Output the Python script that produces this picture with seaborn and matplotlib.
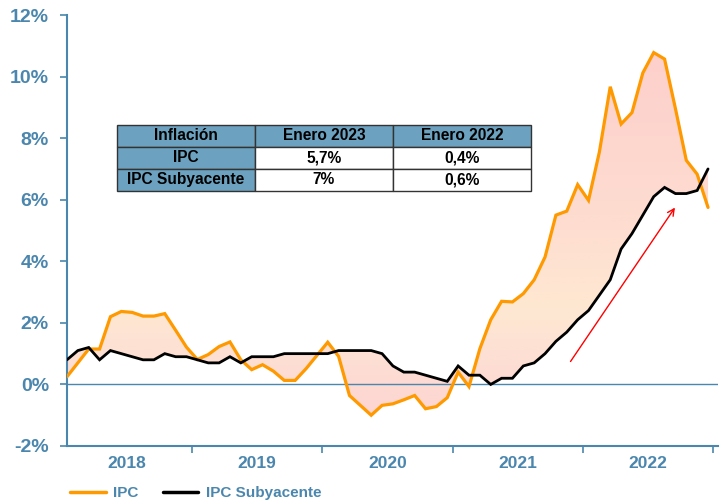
import numpy as np
import pandas as pd
import matplotlib
matplotlib.use("Agg")
import matplotlib.pyplot as plt
import matplotlib.path as mpath
from matplotlib.patches import PathPatch
from matplotlib.colors import LinearSegmentedColormap
from matplotlib.lines import Line2D
import seaborn as sns

# ---- data (monthly, Jan 2018 - Dec 2022) ----
years = ["2018", "2019", "2020", "2021", "2022"]
ipc = [0.25, 0.7, 1.15, 1.15, 2.2, 2.37, 2.34, 2.22, 2.22, 2.3, 1.76, 1.21,
       0.81, 0.97, 1.23, 1.38, 0.8, 0.48, 0.64, 0.43, 0.13, 0.13, 0.51, 0.94,
       1.37, 0.91, -0.36, -0.68, -1.0, -0.68, -0.63, -0.5, -0.36, -0.79, -0.72, -0.43,
       0.4, -0.07, 1.16, 2.1, 2.7, 2.68, 2.95, 3.4, 4.14, 5.5, 5.63, 6.49,
       5.98, 7.55, 9.67, 8.46, 8.83, 10.12, 10.78, 10.57, 8.96, 7.28, 6.83, 5.75]
subyacente = [0.8, 1.1, 1.2, 0.8, 1.1, 1.0, 0.9, 0.8, 0.8, 1.0, 0.9, 0.9,
              0.8, 0.7, 0.7, 0.9, 0.7, 0.9, 0.9, 0.9, 1.0, 1.0, 1.0, 1.0,
              1.0, 1.1, 1.1, 1.1, 1.1, 1.0, 0.6, 0.4, 0.4, 0.3, 0.2, 0.1,
              0.6, 0.3, 0.3, 0.0, 0.2, 0.2, 0.6, 0.7, 1.0, 1.4, 1.7, 2.1,
              2.4, 2.9, 3.4, 4.4, 4.9, 5.5, 6.1, 6.4, 6.2, 6.2, 6.3, 7.0]
yticks = [-2, 0, 2, 4, 6, 8, 10, 12]
table_cols = ["Inflación", "Enero 2023", "Enero 2022"]
table_rows = [["IPC", "5,7%", "0,4%"],
              ["IPC Subyacente", "7%", "0,6%"]]
arrow_start = (46.2, 0.67)
arrow_end = (56.1, 5.82)

month = np.arange(len(ipc))
df = pd.DataFrame({"mes": np.concatenate([month, month]),
                   "valor": ipc + subyacente,
                   "serie": ["IPC"] * len(ipc) + ["IPC Subyacente"] * len(subyacente)})

sns.set_theme(style="white")
plt.rcParams["font.family"] = ["Liberation Sans", "DejaVu Sans"]
plt.rcParams["font.weight"] = "bold"

blue = "#4a86ad"
orange = "#ff9900"

fig = plt.figure(figsize=(7.28, 5.01), dpi=100)
ax = fig.add_axes([0.092, 0.1098, 0.894, 0.8602])

# gradient fill between the two series
poly = ax.fill_between(month, ipc, subyacente, facecolor="none", edgecolor="none")
path = mpath.Path.make_compound_path(*poly.get_paths())
clip = PathPatch(path, transform=ax.transData, facecolor="none", edgecolor="none")
ax.add_patch(clip)
cmap = LinearSegmentedColormap.from_list(
    "grad", [(0.0, "#fdd3d2"), (0.2, "#fde2d4"), (0.3, "#fee8d2"),
             (0.55, "#fedcd0"), (1.0, "#fdcfcc")])
grad = np.linspace(0, 1, 256).reshape(-1, 1)
im = ax.imshow(grad, cmap=cmap, aspect="auto", origin="lower",
               extent=[0, 60, -1.2, 11], zorder=1)
im.set_clip_path(clip)

ax.axhline(0, color=blue, lw=1.0, zorder=2)

sns.lineplot(data=df, x="mes", y="valor", hue="serie",
             palette={"IPC": orange, "IPC Subyacente": "black"},
             ax=ax, legend=False, zorder=3)
for ln, lw in zip(ax.get_lines()[-2:], [2.3, 2.0]):
    ln.set_linewidth(lw)
    ln.set_solid_joinstyle("miter")

ax.annotate("", xy=arrow_end, xytext=arrow_start,
            arrowprops=dict(arrowstyle="->", color="red", lw=1.0,
                            mutation_scale=12), zorder=4)

ax.set_xlim(0, 59.9)
ax.set_ylim(-2, 12)
ax.set_yticks(yticks)
ax.set_yticklabels([f"{v}%" for v in yticks], color=blue, fontsize=14,
                   fontweight="bold")
ax.set_xticks([11.5, 23.5, 35.5, 47.5, 59.5])
ax.set_xticklabels([])
ax.set_xticks([5.5, 17.5, 29.5, 41.5, 53.5], minor=True)
ax.set_xticklabels(years, minor=True, color=blue, fontsize=12.5, fontweight="bold")
ax.tick_params(axis="x", which="minor", length=0, pad=7)
ax.tick_params(axis="x", which="major", length=5, width=1.2, color=blue,
               direction="out", bottom=True)
ax.tick_params(axis="y", length=5, width=1.2, color=blue, direction="out",
               left=True, pad=8)
ax.set_xlabel("")
ax.set_ylabel("")
for s in ["top", "right"]:
    ax.spines[s].set_visible(False)
for s in ["left", "bottom"]:
    ax.spines[s].set_color(blue)
    ax.spines[s].set_linewidth(1.5)

# table
cells = [table_cols] + table_rows
header_bg = "#6ca2bf"
colours = [[header_bg] * 3] + [[header_bg, "white", "white"] for _ in table_rows]
tb = ax.table(cellText=cells, cellColours=colours, cellLoc="center",
              bbox=[0.0768, 0.592, 0.636, 0.153], zorder=5)
tb.auto_set_font_size(False)
for (r, c), cell in tb.get_celld().items():
    cell.set_fontsize(11.2)
    cell.get_text().set_fontweight("bold")
    cell.get_text().set_color("black")
    cell.set_edgecolor("#333333")
    cell.set_linewidth(1.0)

# legend below
handles = [Line2D([], [], color=orange, lw=2.5), Line2D([], [], color="black", lw=2.5)]
leg = fig.legend(handles, ["IPC", "IPC Subyacente"], loc="lower left",
                 bbox_to_anchor=(0.082, -0.02), ncol=2, frameon=False,
                 fontsize=11, handlelength=2.3, columnspacing=1.6,
                 handletextpad=0.5, borderaxespad=0.3)
for t in leg.get_texts():
    t.set_color(blue)
    t.set_fontweight("bold")

fig.savefig("out.png", dpi=100)
